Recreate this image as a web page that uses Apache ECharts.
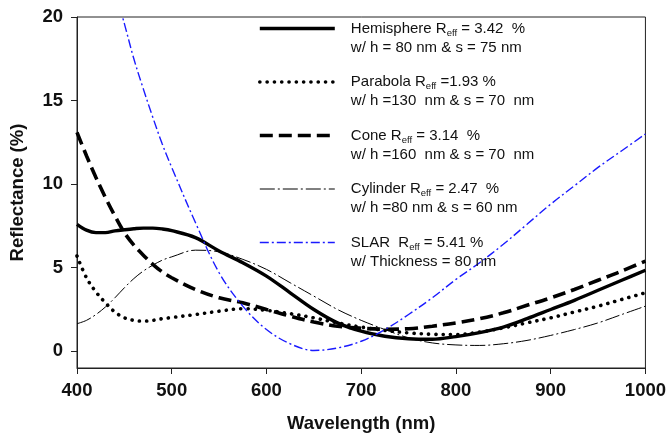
<!DOCTYPE html>
<html lang="en">
<head>
    <meta charset="UTF-8">
    <title>Reflectance</title>
    <script type="text/javascript" src="https://cdn.jsdelivr.net/npm/echarts@6/dist/echarts.min.js"></script>
    <style>
        html, body { margin: 0; padding: 0; background: #fff; }
    </style>
</head>
<body>
    <div id="main" style="width: 669px; height: 438px;"></div>
    <script type="text/javascript">

// wavelength grid (nm)
var wavelength = [400, 410, 420, 430, 440, 450, 460, 470, 480, 490, 500, 525, 550, 575, 600, 625, 650,
    675, 700, 725, 750, 775, 800, 825, 850, 875, 900, 925, 950, 975, 1000];

// reflectance (%)
var hemisphere = [7.6, 7.25, 7.1, 7.1, 7.2, 7.27, 7.33, 7.37, 7.37, 7.32, 7.22, 6.8, 6.0, 5.3, 4.5, 3.5, 2.5,
    1.7, 1.2, 0.9, 0.75, 0.72, 0.88, 1.12, 1.45, 1.95, 2.5, 3.05, 3.65, 4.25, 4.85];
var parabola = [5.7, 4.4, 3.55, 2.9, 2.35, 2.0, 1.85, 1.8, 1.85, 1.95, 2.02, 2.2, 2.4, 2.55, 2.45, 2.25, 2.0,
    1.7, 1.45, 1.25, 1.1, 1.02, 1.0, 1.15, 1.4, 1.7, 2.0, 2.35, 2.7, 3.1, 3.5];
var cone = [13.1, 11.7, 10.4, 9.2, 8.1, 7.1, 6.35, 5.75, 5.2, 4.75, 4.4, 3.7, 3.2, 2.9, 2.5, 2.1, 1.75,
    1.5, 1.38, 1.32, 1.35, 1.5, 1.7, 1.95, 2.3, 2.75, 3.2, 3.7, 4.25, 4.8, 5.4];
var cylinder = [1.65, 1.85, 2.2, 2.65, 3.2, 3.8, 4.35, 4.8, 5.15, 5.45, 5.65, 6.05, 5.95, 5.5, 4.9, 4.1, 3.3,
    2.5, 1.85, 1.3, 0.8, 0.5, 0.38, 0.35, 0.45, 0.65, 0.95, 1.3, 1.7, 2.2, 2.7];
var slar = [null, null, null, null, 21.6, 19.6, 17.5, 15.7, 14.0, 12.4, 11.0, 7.7, 4.7, 2.7, 1.3, 0.45, 0.05,
    0.2, 0.6, 1.3, 2.2, 3.2, 4.3, 5.3, 6.4, 7.6, 8.8, 9.9, 11.0, 12.0, 13.0];

var legendText = {
    'Hemisphere': 'Hemisphere R{sub|eff} = 3.42  %\nw/ h = 80 nm & s = 75 nm',
    'Parabola': 'Parabola R{sub|eff} =1.93 %\nw/ h =130  nm & s = 70  nm',
    'Cone': 'Cone R{sub|eff} = 3.14  %\nw/ h =160  nm & s = 70  nm',
    'Cylinder': 'Cylinder R{sub|eff} = 2.47  %\nw/ h =80 nm & s = 60 nm',
    'SLAR': 'SLAR  R{sub|eff} = 5.41 %\nw/ Thickness = 80 nm'
};

var yTicks = [0, 5, 10, 15, 20];

function pairs(vals) {
    return wavelength.map(function (w, i) { return [w, vals[i]]; });
}

var chartDom = document.getElementById('main');
var myChart = echarts.init(chartDom);

var fontFam = 'Arial, "Liberation Sans", sans-serif';

var styles = {
    'Hemisphere': { color: '#000', width: 3.4, type: 'solid', cap: 'butt' },
    'Parabola': { color: '#000', width: 3.6, type: [0.1, 7.2], cap: 'round' },
    'Cone': { color: '#000', width: 3.6, type: [13, 6], cap: 'butt' },
    'Cylinder': { color: '#000', width: 1, type: [15, 3, 2, 3], cap: 'butt' },
    'SLAR': { color: '#1a1aff', width: 1.4, type: [9, 3, 2, 3], cap: 'butt' }
};

function mkSeries(name, vals) {
    var s = styles[name];
    return {
        name: name,
        type: 'line',
        data: pairs(vals),
        smooth: 0.35,
        symbol: 'none',
        clip: true,
        lineStyle: { color: s.color, width: s.width, type: s.type, cap: s.cap },
        itemStyle: { color: s.color },
        emphasis: { disabled: true }
    };
}

var names = ['Hemisphere', 'Parabola', 'Cone', 'Cylinder', 'SLAR'];

var option = {
    animation: false,
    backgroundColor: '#fff',
    grid: {
        left: 70, right: 23, top: 17, bottom: 59,
        show: true, borderColor: '#222', borderWidth: 1, backgroundColor: 'transparent'
    },
    legend: {
        orient: 'vertical',
        left: 258,
        top: 0,
        padding: 0,
        itemWidth: 75,
        itemHeight: 14,
        itemGap: -3.5,
        selectedMode: false,
        data: names.map(function (n) {
            var s = styles[n];
            return {
                name: n,
                itemStyle: { opacity: 0 },
                lineStyle: { color: s.color, width: s.width, type: s.type, cap: s.cap, opacity: 1 }
            };
        }),
        formatter: function (name) { return legendText[name]; },
        textStyle: {
            fontFamily: fontFam,
            fontSize: 15,
            color: '#111',
            lineHeight: 19,
            padding: [19, 0, 0, 11],
            rich: {
                sub: { fontSize: 9.5, fontFamily: fontFam, color: '#111', lineHeight: 12, verticalAlign: 'bottom' }
            }
        }
    },
    xAxis: {
        type: 'value',
        min: 400, max: 1000, interval: 100,
        name: 'Wavelength (nm)',
        nameLocation: 'middle',
        nameGap: 46,
        nameTextStyle: { fontFamily: fontFam, fontWeight: 'bold', fontSize: 18.5, color: '#111' },
        axisLine: { show: true, onZero: false, lineStyle: { color: '#222', width: 1 } },
        axisTick: { show: true, inside: false, length: 6, lineStyle: { color: '#222' } },
        axisLabel: {
            margin: 13, fontFamily: fontFam, fontWeight: 'bold', fontSize: 18.5, color: '#111',
            formatter: function (v) { return String(v); }
        },
        splitLine: { show: false }
    },
    yAxis: {
        type: 'value',
        min: -1, max: 20,
        name: 'Reflectance (%)',
        nameLocation: 'middle',
        nameGap: 50,
        nameTextStyle: { fontFamily: fontFam, fontWeight: 'bold', fontSize: 18.5, color: '#111' },
        axisLine: { show: true, onZero: false, lineStyle: { color: '#222', width: 1 } },
        axisTick: { show: true, inside: false, length: 6, customValues: yTicks, lineStyle: { color: '#222' } },
        axisLabel: {
            margin: 14, customValues: yTicks, fontFamily: fontFam, fontWeight: 'bold', fontSize: 18.5, color: '#111',
            formatter: function (v) { return String(v); }
        },
        splitLine: { show: false }
    },
    series: [
        mkSeries('Hemisphere', hemisphere),
        mkSeries('Parabola', parabola),
        mkSeries('Cone', cone),
        mkSeries('Cylinder', cylinder),
        mkSeries('SLAR', slar)
    ]
};

option && myChart.setOption(option);
    </script>
</body>
</html>
